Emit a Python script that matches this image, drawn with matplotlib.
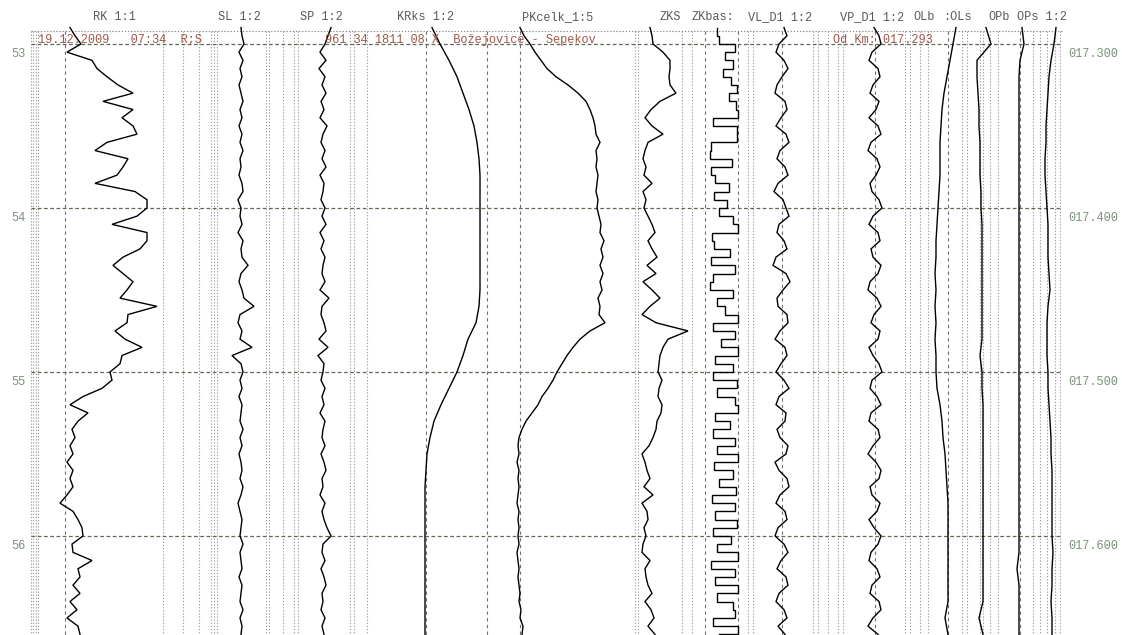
import numpy as np
import matplotlib
matplotlib.use('Agg')
import matplotlib.pyplot as plt

# chainage of the samples, metres
km_fine = np.arange(17290, 17661, 5)      # 75 samples
km_coarse = np.arange(17290, 17671, 10)   # 39 samples

# channel readings, offset from each channel's reference line
rk = [5, 10, 16, 2, 27, 32, 42, 53, 68, 38, 68, 57, 68, 72, 42,
      30, 63, 58, 52, 30, 70, 82, 82, 72, 47, 82, 82, 75, 58, 48,
      58, 68, 62, 55, 92, 63, 62, 50, 60, 77, 57, 55, 45, 47, 37,
      18, 5, 23, 13, 7, 10, 5, 8, 2, 8, 5, 8, 2, -5, 8,
      13, 17, 18, 7, 8, 27, 13, 15, 8, 15, 5, 12, 2, 13, 15]
sl = [0, 1, 3, -2, 2, -1, 1, -2, 0, 2, -1, 1, -2, 1, -1,
      2, -1, 0, -2, 1, 2, -3, 0, -1, 1, -3, 2, 0, 1, 7,
      0, -2, 1, 3, 13, -1, -3, 1, -1, 11, -9, 0, 2, -1, 1,
      -2, 1, 0, -1, 2, -1, 1, -2, 0, 1, -1, 2, 0, -3, -1,
      1, 0, -1, 2, -1, 0, 1, -2, 1, 0, -1, 2, -1, 1, 0]
sp = [8, 5, 2, -3, 3, -4, 2, -1, 3, -2, 1, -3, 4, 0, -2,
      2, -1, 3, -3, 1, 0, -2, 2, -1, 3, -3, 1, -2, 2, 0,
      -1, 2, -3, 6, -1, -2, 1, 3, -4, 5, -5, 1, 0, -2, 2,
      -1, 1, -3, 2, 0, -1, 2, -2, 1, 3, -1, 0, -3, 2, -1,
      1, 4, 8, 0, -1, 2, -2, 1, 3, -1, 0, -2, 2, -1, 1]
krks = [6, 14, 23, 31, 37, 43, 48, 51, 53, 54, 54, 54, 54, 54, 54,
        54, 54, 53, 50, 42, 37, 31, 23, 15, 8, 4, 1, 0, -1, -1,
        -1, -1, -1, -1, -1, -1, -1, -1, -1]
pk = [0, 4, 10, 15, 21, 27, 36, 48, 58, 66, 70, 73, 75, 76, 80,
      76, 77, 76, 78, 77, 76, 78, 77, 79, 81, 80, 84, 81, 83, 80,
      83, 80, 82, 78, 80, 79, 85, 70, 60, 53, 47, 42, 37, 33, 28,
      22, 18, 12, 6, 2, -1, -2, -1, -3, -1, -2, -1, -2, -3, -1,
      -2, -1, -2, -1, -3, -2, -1, -2, -1, 0, -1, 1, 0, 3, 2]
zks = [12, 14, 15, 25, 32, 32, 31, 32, 38, 22, 13, 7, 14, 25, 10,
       7, 5, 8, 6, 14, 5, 8, 6, 10, 14, 17, 10, 14, 19, 9,
       18, 5, 14, 22, 12, 4, 18, 50, 30, 25, 22, 21, 20, 24, 21,
       20, 24, 23, 19, 18, 15, 11, 4, 7, 9, 12, 6, 15, 4, 9,
       10, 6, 8, 5, 4, 12, 7, 8, 10, 14, 7, 13, 16, 10, 17]
zkbase = [12, 14, 30, 20, 28, 18, 26, 32, 24, 31, 33, 8, 32, 32, 6,
          5, 27, 6, 10, 24, 9, 22, 14, 28, 33, 7, 9, 25, 6, 30,
          8, 5, 28, 12, 20, 33, 8, 30, 16, 33, 10, 28, 8, 32, 12,
          30, 33, 10, 25, 8, 30, 12, 33, 9, 28, 14, 31, 7, 30, 10,
          32, 8, 26, 12, 33, 6, 30, 10, 33, 12, 28, 30, 8, 33, 14]
vl = [2, 5, -3, -6, 2, 6, 0, -5, -7, 3, 5, -1, -6, 4, 7,
      -2, -5, 3, 6, -4, -8, 1, 4, 7, -3, -5, 2, 5, -6, -9,
      4, 8, 1, -5, -4, 5, 6, -2, -7, 3, 5, -1, -6, 2, 7,
      -3, -6, 4, 3, -5, -2, 6, 4, -7, -3, 5, 7, -2, -6, 3,
      5, -4, -7, 2, 6, -1, -5, 4, 6, -3, -6, 2, 5, -4, 3]
vp = [-1, 4, 6, -3, -6, 3, 5, -2, -5, 4, 1, -6, 3, 6, -4,
      -7, 2, 5, 1, -5, -3, 4, 7, -2, -6, 3, 5, -4, -2, 6,
      3, -5, -7, 2, 6, -1, -4, 5, 3, -6, -2, 4, 7, -3, -5,
      2, 6, -4, -6, 3, 5, -2, -7, 1, 6, 4, -5, -3, 5, 2,
      -6, -1, 6, 3, -4, -6, 2, 5, -3, -5, 4, 6, -2, -7, 3]
olb = [8, 5, 2, -1, -4, -6, -7, -8, -8, -8, -9, -10, -11, -12, -12,
       -13, -12, -13, -12, -13, -12, -12, -11, -8, -6, -5, -3, -2, -1, 0,
       0, 0, 0, 0, 0, 0, -3, 0, 0]
ols = [3, 8, -6, -6, -5, -4, -4, -3, -3, -3, -2, -2, -1, -1, -1,
       -1, -1, -1, -1, -1, -3, -1, -1, 0, 0, 0, 0, 0, 0, 0,
       0, 0, 0, 0, 0, 0, -4, 0, 0]
opb = [2, 4, 0, -1, -1, -1, -1, -1, -1, -1, -1, -1, -1, -1, -1,
       -1, -1, -1, -1, -1, -1, -1, -1, -1, -1, -1, -1, -1, -1, -1,
       -1, -1, -1, -3, -1, -1, -1, -1, -1]
ops = [9, 7, 4, 2, 1, 0, -1, -1, -2, -2, -1, 0, 1, 1, 1,
       2, 3, 1, 0, 0, 0, 1, 1, 2, 3, 4, 4, 5, 5, 5,
       5, 5, 6, 5, 5, 4, 5, 5, 5]

# km posts
posts = [17300, 17400, 17500, 17600]
post_labels = ['53', '54', '55', '56']

titles = ['RK 1:1', 'SL 1:2', 'SP 1:2', 'KRks 1:2', 'PKcelk_1:5', 'ZKS',
          'ZKbas:', 'VL_D1 1:2', 'VP_D1 1:2', 'OLb', ':OLs', 'OPb', 'OPs 1:2']
title_x = [93, 218, 300, 397, 522, 660, 692, 748, 840, 913, 943, 988, 1017]

# traces: values, sampling, reference x, drawstyle
channels = [
    (rk, km_fine, 65, 'default'),
    (sl, km_fine, 241, 'default'),
    (sp, km_fine, 323, 'default'),
    (krks, km_coarse, 426, 'default'),
    (pk, km_fine, 520, 'default'),
    (zks, km_fine, 638, 'default'),
    (zkbase, km_fine, 705, 'steps-pre'),
    (vl, km_fine, 782, 'default'),
    (vp, km_fine, 875, 'default'),
    (olb, km_coarse, 948, 'default'),
    (ols, km_coarse, 983, 'default'),
    (opb, km_coarse, 1020, 'default'),
    (ops, km_coarse, 1047, 'default'),
]

ref_lines = [65, 426, 487, 520, 705, 738, 782, 875, 948, 1020]
dot_lines = [31, 33, 36, 38, 163, 183, 199, 211, 214, 217, 266, 269, 283,
             294, 298, 350, 354, 367, 635, 638, 682, 692, 748, 753,
             813, 818, 828, 838, 843, 905, 910, 920, 928, 962, 967,
             980, 983, 990, 998, 1033, 1040, 1047, 1055, 1060]

MONO = 'Liberation Mono'
FS = 8.6

fig = plt.figure(figsize=(11.22, 6.35), dpi=100)
ax = fig.add_axes([0, 0, 1, 1])
ax.set_xlim(0, 1122)
ax.set_ylim(17660.4, 17273.2)
ax.axis('off')

top = 17292.0
left, right = 31, 1062

for x in dot_lines:
    ax.plot([x, x], [top, 17670], color='#a0a0a0', lw=0.8,
            ls=(0, (1.2, 1.6)), zorder=1)
for x in ref_lines:
    ax.plot([x, x], [top, 17670], color='#707070', lw=0.8,
            ls=(0, (3, 3)), zorder=1)

ax.plot([left, right], [top, top], color='#8a8a8a', lw=0.8,
        ls=(0, (1.2, 1.6)), zorder=1)
for p in posts:
    ax.plot([left, right], [p, p], color='#5d6b55', lw=0.9,
            ls=(0, (3, 2)), zorder=1)

for vals, km, x0, ds in channels:
    ax.plot(x0 + np.array(vals), km, color='black', lw=1.0,
            drawstyle=ds, zorder=3, solid_joinstyle='miter')

for t, x in zip(titles, title_x):
    ax.text(x, 17283.5, t, family=MONO, fontsize=FS, color='#5a5a5a',
            ha='left', va='center')

for p, lab in zip(posts, post_labels):
    ax.text(18, p + 6.2, lab, family=MONO, fontsize=FS, color='#7b917b',
            ha='center', va='center')
    ax.text(1068, p + 6.2, f'{p / 1000:07.3f}', family=MONO, fontsize=FS,
            color='#7b917b', ha='left', va='center')

info = '#a0584a'
ax.text(38, 17297.4, '19.12.2009   07:34  R;S', family=MONO, fontsize=FS,
        color=info, ha='left', va='center', zorder=4)
ax.text(325, 17297.4, '961 34 1811 08 X  Božejovice - Sepekov', family=MONO,
        fontsize=FS, color=info, ha='left', va='center', zorder=4)
ax.text(833, 17297.4, 'Od Km: 017.293', family=MONO, fontsize=FS,
        color=info, ha='left', va='center', zorder=4)

fig.savefig('out.png', dpi=100, facecolor='white')
